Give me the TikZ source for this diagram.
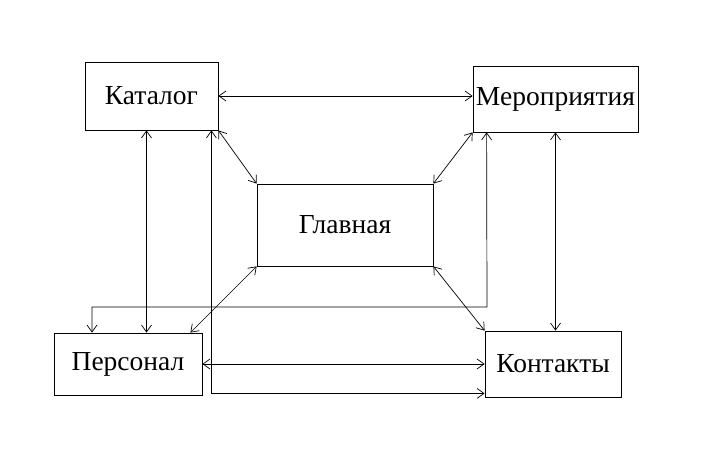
\documentclass[tikz,border=0pt]{standalone}
\usepackage{fontspec}
\setmainfont{Liberation Serif}
\usetikzlibrary{positioning,arrows.meta,calc}
\tikzset{
  page/.style={draw, line width=0.8pt, inner sep=0pt, font=\fontsize{27.5}{32}\selectfont},
  link/.style={line width=0.7pt, {Straight Barb[length=7pt,width=10pt]}-{Straight Barb[length=7pt,width=10pt]}},
}
\begin{document}
\begin{tikzpicture}[x=1pt,y=-1pt]
  \useasboundingbox (0,0) rectangle (726,470);
  \node[page, minimum width=133pt, minimum height=68pt] (kat) at (151.5,96) {Каталог};
  \node[page, minimum width=165pt, minimum height=66pt] (mer) at (555.5,99) {Мероприятия};
  \node[page, minimum width=176pt, minimum height=82pt] (gl) at (345,225) {Главная};
  \node[page, minimum width=148pt, minimum height=62pt] (per) at (128,364) {Персонал};
  \node[page, minimum width=136pt, minimum height=66pt] (kon) at (553,364) {Контакты};
  % main page links
  \draw[link] (kat.south east) -- (gl.north west);
  \draw[link] (mer.south west) -- (gl.north east);
  \draw[link] (gl.south west) -- ([xshift=-12pt]per.north east);
  \draw[link] (gl.south east) -- (kon.north west);
  % outer links
  \draw[link] (kat.east) -- (kat.east -| mer.west);
  \draw[link] (per.east) -- (per.east -| kon.west);
  \draw[link] ([xshift=-5pt]kat.south) -- ([xshift=-5pt]kat.south |- per.north);
  \draw[link] (mer.south) -- (mer.south |- kon.north);
  \draw[link] ([xshift=-7pt]kat.south east) |- ([yshift=4pt]kon.south west);
  \coordinate (r1) at (487,307);
  \coordinate (r2) at (92,307);
  \draw[link] ([xshift=14pt]mer.south west) -- (r1) -- (r2) -- (r2 |- per.north);
\end{tikzpicture}
\end{document}
